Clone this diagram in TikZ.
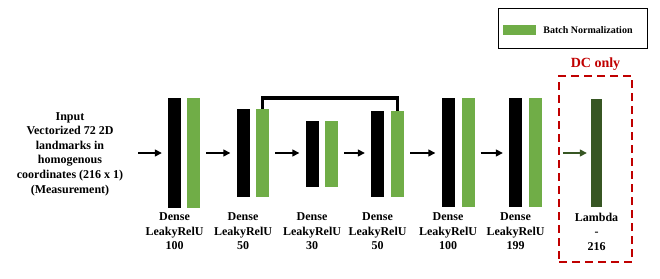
\documentclass[tikz,border=0pt]{standalone}
\usepackage{fontspec}
\setmainfont{Liberation Serif}
\usepackage{tikz}
\usetikzlibrary{arrows.meta,positioning,calc}
\definecolor{bngreen}{HTML}{70AD47}
\definecolor{lamgreen}{HTML}{375623}
\definecolor{dcred}{HTML}{C00000}

\begin{document}
\begin{tikzpicture}[x=1pt,y=-1pt,
  dense/.style={fill=black,minimum width=13pt,inner sep=0pt},
  bnorm/.style={fill=bngreen,minimum width=13pt,inner sep=0pt},
  lbl/.style={anchor=north,align=center,inner sep=0pt,
    font=\fontsize{12}{14.5}\selectfont\bfseries},
  arrow/.style={-{Triangle[length=7pt,width=7pt]},line width=1.4pt,
    shorten <=6pt,shorten >=6pt},
  skip/.style={line width=3.5pt,line join=miter},
  dcbox/.style={draw=dcred,dash pattern=on 8pt off 5pt,line width=2.2pt,
    minimum width=73pt,minimum height=186pt,inner sep=0pt},
]
  \useasboundingbox (0,0) rectangle (660,278);

  % legend
  \node[draw,line width=0.8pt,minimum width=149pt,minimum height=40pt] (legend) at (572.5,28) {};
  \node[bnorm,minimum width=33pt,minimum height=10pt] (legsw) at (519.5,30) {};
  \node[right=7pt of legsw,inner sep=0pt,font=\fontsize{10}{12}\selectfont\bfseries] (legtxt) {Batch Normalization};

  % input
  \node[align=center,inner sep=0pt,font=\fontsize{12}{14.6}\selectfont\bfseries] (input) at (70,154)
    {Input\\Vectorized 72 2D\\landmarks in\\homogenous\\coordinates (216 x 1)\\(Measurement)};

  % layers
  \node[dense,minimum height=110pt] (dense1) at (174.5,153) {};
  \node[bnorm,minimum height=110pt] (bn1) at (193.5,153) {};
  \node[dense,minimum height=88pt] (dense2) at (243,153) {};
  \node[bnorm,minimum height=88pt] (bn2) at (262.5,153) {};
  \node[dense,minimum height=66pt] (dense3) at (312,154) {};
  \node[bnorm,minimum height=66pt] (bn3) at (331.5,154) {};
  \node[dense,minimum height=86pt] (dense4) at (377.5,154) {};
  \node[bnorm,minimum height=86pt] (bn4) at (397.5,154) {};
  \node[dense,minimum height=109pt] (dense5) at (448,152.5) {};
  \node[bnorm,minimum height=109pt] (bn5) at (468,152.5) {};
  \node[dense,minimum height=109pt] (dense6) at (515.5,152.5) {};
  \node[bnorm,minimum height=109pt] (bn6) at (535,152.5) {};
  \node[fill=lamgreen,minimum width=11pt,minimum height=108pt,inner sep=0pt] (lambda) at (596.5,153) {};

  % DC only box
  \node[dcbox] (dc) at (595.5,169) {};
  \node[above=4pt of dc,inner sep=0pt,text=dcred,font=\fontsize{14}{16}\selectfont\bfseries] (dclabel) {DC only};

  % arrows
  \draw[arrow,shorten <=15pt] (input.east |- dense1) -- (dense1);
  \foreach \a/\b in {bn1/dense2,bn2/dense3,bn3/dense4,bn4/dense5,bn5/dense6}
    \draw[arrow] (\a.east |- 0,153) -- (\b.west |- 0,153);
  \draw[arrow,draw=lamgreen,shorten <=5pt,shorten >=4pt] (dc.west |- lambda) -- (lambda);

  % skip connection
  \coordinate (skiptop) at (330,98);
  \draw[skip] (bn2.north) |- (skiptop) -| (bn4.north);

  % labels
  \coordinate (lblrow) at (0,212.5);
  \node[lbl] (lbl1) at (dense1 |- lblrow) {Dense\\LeakyRelU\\100};
  \node[lbl] (lbl2) at (dense2 |- lblrow) {Dense\\LeakyRelU\\50};
  \node[lbl] (lbl3) at (dense3 |- lblrow) {Dense\\LeakyRelU\\30};
  \node[lbl] (lbl4) at (dense4 |- lblrow) {Dense\\LeakyRelU\\50};
  \node[lbl] (lbl5) at (dense5 |- lblrow) {Dense\\LeakyRelU\\100};
  \node[lbl] (lbl6) at (dense6 |- lblrow) {Dense\\LeakyRelU\\199};
  \node[lbl] (lbl7) at (lambda |- lblrow) {Lambda\\-\\216};
\end{tikzpicture}
\end{document}
